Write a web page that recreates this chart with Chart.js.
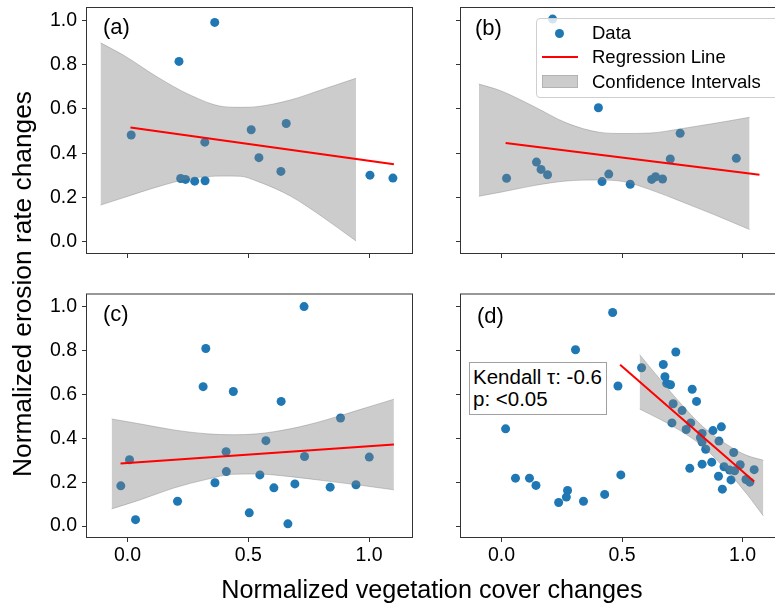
<!DOCTYPE html>
<html>
<head>
<meta charset="utf-8">
<script src="https://cdn.jsdelivr.net/npm/chart.js@4.4.1/dist/chart.umd.min.js"></script>
<style>
html, body { margin: 0; padding: 0; overflow: hidden; background: #fff; }
#wrap { position: relative; width: 775px; height: 606px; overflow: hidden;
        font-family: "Liberation Sans", Arial, sans-serif; color: #000; }
canvas { position: absolute; }
.t { position: absolute; white-space: nowrap; }
</style>
</head>
<body>
<div id="wrap">
  <canvas id="pa" width="420" height="290" style="left:0;top:0"></canvas>
  <canvas id="pb" width="370" height="290" style="left:420px;top:0"></canvas>
  <canvas id="pc" width="420" height="316" style="left:0;top:290px"></canvas>
  <canvas id="pd" width="370" height="316" style="left:420px;top:290px"></canvas>

  <div class="t" style="left:103px;top:12px;font-size:22px;line-height:30px">(a)</div>
  <div class="t" style="left:475px;top:13px;font-size:22px;line-height:30px">(b)</div>
  <div class="t" style="left:103px;top:299px;font-size:22px;line-height:30px">(c)</div>
  <div class="t" style="left:477px;top:301px;font-size:22px;line-height:30px">(d)</div>

  <!-- legend of panel (b) -->
  <div style="position:absolute;left:536px;top:18px;width:260px;height:80px;box-sizing:border-box;border:1px solid #cfcfcf;border-radius:4px;background:rgba(255,255,255,0.8)"></div>
  <div style="position:absolute;left:555px;top:29px;width:9px;height:9px;border-radius:50%;background:#1f77b4"></div>
  <div style="position:absolute;left:542px;top:56px;width:36px;height:2px;background:#ff0000"></div>
  <div style="position:absolute;left:542px;top:75px;width:36px;height:13px;box-sizing:border-box;background:#cccccc;border:1px solid #b3b3b3"></div>
  <div class="t" style="left:592px;top:22px;font-size:18.5px;line-height:22px">Data</div>
  <div class="t" style="left:592px;top:46px;font-size:18.5px;line-height:22px">Regression Line</div>
  <div class="t" style="left:592px;top:71px;font-size:18.5px;line-height:22px">Confidence Intervals</div>

  <!-- statistics box of panel (d) -->
  <div class="t" style="left:469px;top:362px;width:138px;height:53px;box-sizing:border-box;border:1px solid #a0a0a0;background:#fff;padding:3px 0 0 3px;font-size:20.5px;line-height:22px">Kendall τ: -0.6<br>p: &lt;0.05</div>

  <div class="t" style="left:-228px;top:269px;width:500px;height:30px;line-height:30px;font-size:26.3px;text-align:center;transform:rotate(-90deg)">Normalized erosion rate changes</div>
  <div class="t" style="left:132px;top:574px;width:600px;height:30px;line-height:30px;font-size:25.2px;text-align:center">Normalized vegetation cover changes</div>
</div>

<script>
// axis ticks
var xTicks = [0, 0.5, 1.0];
var yTicks = [0, 0.2, 0.4, 0.6, 0.8, 1.0];

// (a)
var aX = [0.015, 0.213, 0.361, 0.220, 0.240, 0.278, 0.321, 0.320, 0.512, 0.657, 0.544, 0.635, 1.004, 1.099];
var aY = [0.482, 0.814, 0.990, 0.286, 0.282, 0.274, 0.276, 0.450, 0.506, 0.534, 0.380, 0.318, 0.301, 0.288];
var aLineX = [0.012, 1.103];
var aLineY = [0.516, 0.350];
var aBandX  = [-0.112, -0.015, 0.123, 0.260, 0.398, 0.467, 0.536, 0.674, 0.811, 0.946];
var aBandHi = [0.898, 0.841, 0.744, 0.662, 0.610, 0.607, 0.610, 0.640, 0.689, 0.738];
var aBandLo = [0.166, 0.200, 0.248, 0.286, 0.297, 0.296, 0.274, 0.207, 0.110, 0.004];

// (b)
var bX = [0.212, 0.402, 0.021, 0.145, 0.164, 0.191, 0.417, 0.445, 0.534, 0.623, 0.639, 0.668, 0.700, 0.741, 0.974];
var bY = [1.005, 0.605, 0.287, 0.360, 0.327, 0.303, 0.272, 0.306, 0.260, 0.282, 0.294, 0.284, 0.374, 0.490, 0.377];
var bLineX = [0.017, 1.070];
var bLineY = [0.446, 0.303];
var bBandX  = [-0.094, -0.004, 0.134, 0.271, 0.409, 0.506, 0.616, 0.753, 0.891, 1.029];
var bBandHi = [0.712, 0.682, 0.611, 0.536, 0.494, 0.489, 0.491, 0.512, 0.536, 0.562];
var bBandLo = [0.206, 0.224, 0.254, 0.275, 0.279, 0.272, 0.236, 0.179, 0.119, 0.056];

// (c)
var cX = [0.731, 0.324, 0.313, 0.438, 0.636, 0.882, 0.573, 0.408, 0.008, 0.733, 1.001, 0.409, 0.548, -0.028, 0.362, 0.606, 0.693, 0.839, 0.946, 0.207, 0.033, 0.504, 0.664];
var cY = [1.000, 0.809, 0.635, 0.613, 0.568, 0.492, 0.389, 0.339, 0.302, 0.317, 0.314, 0.248, 0.233, 0.183, 0.197, 0.174, 0.192, 0.177, 0.188, 0.113, 0.029, 0.060, 0.010];
var cLineX = [-0.029, 1.103];
var cLineY = [0.285, 0.372];
var cBandX  = [-0.066, 0.054, 0.191, 0.329, 0.439, 0.536, 0.674, 0.811, 0.949, 1.103];
var cBandHi = [0.488, 0.465, 0.438, 0.420, 0.416, 0.420, 0.443, 0.480, 0.526, 0.578];
var cBandLo = [0.078, 0.120, 0.173, 0.213, 0.236, 0.237, 0.225, 0.207, 0.188, 0.165];

// (d)
var dX = [0.461, 0.307, 0.723, 0.671, 0.581, 0.678, 0.685, 0.701, 0.483, 0.791, 0.809, 0.712, 0.749, 0.707, 0.785, 0.766,
          0.832, 0.877, 0.912, 0.825, 0.902, 0.832, 0.847, 0.963, 0.017, 0.781, 0.832, 0.872, 0.923, 0.946, 0.967, 0.990,
          1.048, 0.900, 0.952, 1.014, 1.030, 0.916, 0.495, 0.058, 0.116, 0.143, 0.274, 0.269, 0.237, 0.340, 0.428];
var dY = [0.973, 0.803, 0.793, 0.736, 0.721, 0.680, 0.650, 0.644, 0.638, 0.623, 0.568, 0.557, 0.526, 0.470, 0.470, 0.440,
          0.422, 0.435, 0.452, 0.402, 0.387, 0.383, 0.350, 0.335, 0.443, 0.263, 0.282, 0.291, 0.270, 0.255, 0.252, 0.279,
          0.257, 0.227, 0.210, 0.212, 0.200, 0.168, 0.233, 0.218, 0.218, 0.185, 0.162, 0.132, 0.107, 0.113, 0.144];
var dLineX = [0.492, 1.048];
var dLineY = [0.735, 0.203];
var dBandX  = [0.573, 0.658, 0.741, 0.838, 0.934, 1.017, 1.086];
var dBandHi = [0.781, 0.668, 0.561, 0.450, 0.372, 0.322, 0.300];
var dBandLo = [0.533, 0.486, 0.435, 0.360, 0.253, 0.147, 0.046];

var FONT = '"Liberation Sans", Arial, sans-serif';

// matplotlib-like box around each plot area
var frame = {
    id: 'frame',
    afterDraw: function (chart) {
        var a = chart.chartArea, ctx = chart.ctx;
        ctx.save();
        ctx.strokeStyle = '#333';
        ctx.lineWidth = 1;
        ctx.strokeRect(a.left - 0.5, a.top - 0.5, a.right - a.left + 1, a.bottom - a.top + 1);
        ctx.restore();
    }
};

function pts(xs, ys) {
    return xs.map(function (x, i) { return {x: x, y: ys[i]}; });
}

function panel(id, px, py, lx, ly, bx, hi, lo, o) {
    new Chart(document.getElementById(id), {
        type: 'scatter',
        data: {
            datasets: [
                {data: pts(px, py), backgroundColor: '#1f77b4', pointRadius: 4.5, pointHoverRadius: 4.5, borderWidth: 0, order: 3},
                {type: 'line', data: pts(bx, hi), fill: '+1', backgroundColor: 'rgba(128,128,128,0.4)',
                 borderColor: 'rgba(110,110,110,0.35)', borderWidth: 1, pointRadius: 0, cubicInterpolationMode: 'monotone', order: 2},
                {type: 'line', data: pts(bx, lo), fill: false,
                 borderColor: 'rgba(110,110,110,0.35)', borderWidth: 1, pointRadius: 0, cubicInterpolationMode: 'monotone', order: 2},
                {type: 'line', data: pts(lx, ly), fill: false, borderColor: '#ff0000', borderWidth: 2, pointRadius: 0, order: 1}
            ]
        },
        options: {
            responsive: false,
            animation: false,
            events: [],
            layout: {padding: o.pad},
            plugins: {legend: {display: false}, tooltip: {enabled: false}},
            scales: {
                x: {
                    type: 'linear', min: -0.168, max: 1.178,
                    afterBuildTicks: function (s) { s.ticks = xTicks.map(function (v) { return {value: v}; }); },
                    afterFit: function (s) { s.height = o.xh; s.paddingLeft = s.paddingRight = s.paddingTop = s.paddingBottom = 0; },
                    ticks: {display: o.showX, color: '#000', padding: 2, maxRotation: 0, autoSkip: false,
                            font: {family: FONT, size: 19.5},
                            callback: function (v) { return v.toFixed(1); }},
                    grid: {drawOnChartArea: false, tickLength: 5, tickColor: '#333', tickWidth: 1},
                    border: {display: false}
                },
                y: {
                    type: 'linear', min: -0.05, max: 1.055,
                    afterBuildTicks: function (s) { s.ticks = yTicks.map(function (v) { return {value: v}; }); },
                    afterFit: function (s) { s.width = o.yw; s.paddingLeft = s.paddingRight = s.paddingTop = s.paddingBottom = 0; },
                    ticks: {display: o.showY, color: '#000', padding: 5, autoSkip: false,
                            font: {family: FONT, size: 19.5},
                            callback: function (v) { return v.toFixed(1); }},
                    grid: {drawOnChartArea: false, tickLength: 5, tickColor: '#333', tickWidth: 1},
                    border: {display: false}
                }
            }
        },
        plugins: [frame]
    });
}

panel('pa', aX, aY, aLineX, aLineY, aBandX, aBandHi, aBandLo,
      {pad: {top: 8, right: 8, left: 0, bottom: 0}, xh: 37, yw: 87, showX: false, showY: true});
panel('pb', bX, bY, bLineX, bLineY, bBandX, bBandHi, bBandLo,
      {pad: {top: 8, right: 4, left: 0, bottom: 0}, xh: 37, yw: 41, showX: false, showY: false});
panel('pc', cX, cY, cLineX, cLineY, cBandX, cBandHi, cBandLo,
      {pad: {top: 1, right: 8, left: 0, bottom: 0}, xh: 69, yw: 87, showX: true, showY: true});
panel('pd', dX, dY, dLineX, dLineY, dBandX, dBandHi, dBandLo,
      {pad: {top: 1, right: 4, left: 0, bottom: 0}, xh: 69, yw: 41, showX: true, showY: false});
</script>
</body>
</html>
